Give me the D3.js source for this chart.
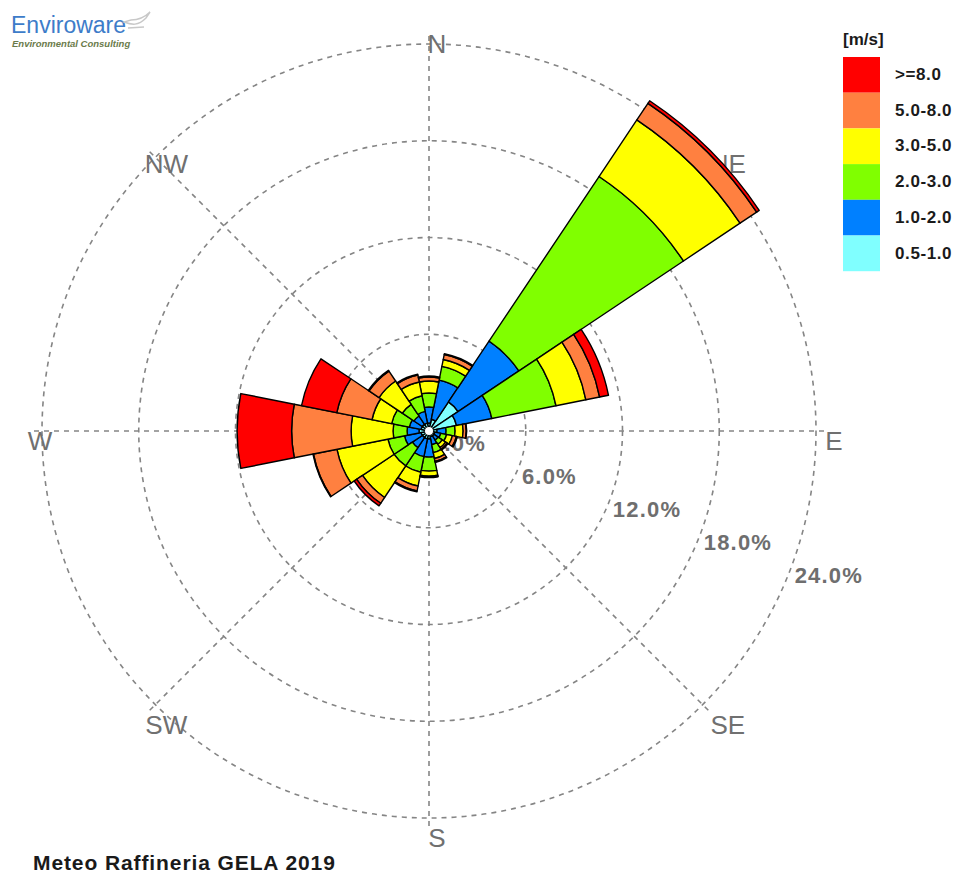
<!DOCTYPE html>
<html>
<head>
<meta charset="utf-8">
<script src="https://d3js.org/d3.v7.min.js"></script>
<style>
  body { margin: 0; background: #fff; }
  svg { display: block; font-family: Arial, "Liberation Sans", sans-serif; }
</style>
</head>
<body>
<div id="my_dataviz"></div>
<script>
// wind directions (16 sectors)
var directions = ["N","NNE","NE","ENE","E","ESE","SE","SSE","S","SSW","SW","WSW","W","WNW","NW","NNW"];

// speed classes, from the centre out
var speedClasses = ["0.5-1.0","1.0-2.0","2.0-3.0","3.0-5.0","5.0-8.0",">=8.0"];
var classColors  = ["#80ffff","#0080ff","#80ff00","#ffff00","#ff8040","#ff0000"];

// frequency (%) of each class per direction
var freq_05_10 = [0.50,0.74,2.17,1.74,0.50,0.37,0.37,0.37,0.50,0.50,0.50,0.50,0.62,0.50,0.50,0.50];
var freq_10_20 = [0.99,2.48,4.53,2.23,0.56,0.37,0.31,0.50,1.12,1.12,0.74,1.05,0.74,0.74,0.62,0.74];
var freq_20_30 = [0.87,0.87,12.28,4.06,0.56,0.37,0.31,0.50,0.87,0.99,1.36,1.05,0.87,1.12,0.87,0.99];
var freq_30_50 = [0.74,0.43,4.22,1.89,0.50,0.37,0.25,0.37,0.31,0.87,2.36,3.22,2.60,1.24,1.74,0.87];
var freq_50_80 = [0.25,0.31,1.24,0.87,0.19,0.25,0.12,0.19,0.06,0.31,0.43,1.49,3.69,2.23,0.74,0.43];
var freq_80_up = [0.06,0.06,0.19,0.56,0.03,0.06,0.06,0.06,0.03,0.06,0.19,0.03,3.38,2.23,0.06,0.06];

// rings and compass labels
var ringTicks = [0, 6, 12, 18, 24];
var compassLabels = ["N","NE","E","SE","S","SW","W","NW"];

var title = "Meteo Raffineria GELA 2019";
var legendTitle = "[m/s]";

var width = 960, height = 873;
var cx = 429, cy = 431, outer = 387;

var svg = d3.select("#my_dataviz")
  .append("svg")
    .attr("width", width)
    .attr("height", height);

var g = svg.append("g")
    .attr("transform", "translate(" + cx + "," + cy + ")");

// build the table for the stack
var series = [freq_05_10, freq_10_20, freq_20_30, freq_30_50, freq_50_80, freq_80_up];
var table = directions.map(function(dir, i) {
  var row = {dir: dir};
  speedClasses.forEach(function(k, j) { row[k] = series[j][i]; });
  return row;
});
var stacked = d3.stack().keys(speedClasses)(table);

// angle: band scale over the full turn, first sector centred on N
var x = d3.scaleBand()
  .domain(directions)
  .range([-Math.PI / 16, 2 * Math.PI - Math.PI / 16])
  .padding(0);

// radius
var y = d3.scaleLinear()
  .domain([0, 24])
  .range([0, outer]);

// grid circles
g.selectAll("circle.ring")
  .data(ringTicks.slice(1))
  .enter()
  .append("circle")
    .attr("class", "ring")
    .attr("r", function(d) { return y(d); })
    .attr("fill", "none")
    .attr("stroke", "#858585")
    .attr("stroke-width", 1.6)
    .attr("stroke-dasharray", "5,5");

// spokes
g.selectAll("line.spoke")
  .data(compassLabels)
  .enter()
  .append("line")
    .attr("class", "spoke")
    .attr("x1", 0).attr("y1", 0)
    .attr("x2", function(d, i) { return (outer + 10) * Math.sin(i * Math.PI / 4); })
    .attr("y2", function(d, i) { return -(outer + 10) * Math.cos(i * Math.PI / 4); })
    .attr("stroke", "#858585")
    .attr("stroke-width", 1.6)
    .attr("stroke-dasharray", "5,5");

// compass labels
g.selectAll("text.compass")
  .data(compassLabels)
  .enter()
  .append("text")
    .attr("class", "compass")
    .attr("x", function(d, i) {
      var extra = d.length > 1 ? 10 : 0;
      return 8 + extra + (outer + 10) * Math.sin(i * Math.PI / 4);
    })
    .attr("y", function(d, i) {
      var extra = d.length > 1 ? 3 : 0;
      return 10 + extra - (outer + 10) * Math.cos(i * Math.PI / 4);
    })
    .attr("text-anchor", "middle")
    .attr("dy", "0.36em")
    .attr("font-size", 26)
    .attr("fill", "#707070")
    .text(function(d) { return d; });

// ring labels along a line at 110 degrees
var labelAngle = 110 * Math.PI / 180;
g.selectAll("text.ringlabel")
  .data(ringTicks)
  .enter()
  .append("text")
    .attr("class", "ringlabel")
    .attr("x", function(d) { return y(d) * Math.sin(labelAngle) + 2; })
    .attr("y", function(d) { return -y(d) * Math.cos(labelAngle) + 20; })
    .attr("font-size", 22)
    .attr("font-weight", "bold")
    .attr("letter-spacing", 1.2)
    .attr("fill", "#6e6e6e")
    .text(function(d) { return d3.format(".1f")(d) + "%"; });

// bars
var arc = d3.arc()
  .innerRadius(function(d) { return y(d[0]); })
  .outerRadius(function(d) { return y(d[1]); })
  .startAngle(function(d) { return x(d.data.dir); })
  .endAngle(function(d) { return x(d.data.dir) + x.bandwidth(); });

g.selectAll("g.band")
  .data(stacked)
  .enter()
  .append("g")
    .attr("class", "band")
    .attr("fill", function(d, i) { return classColors[i]; })
  .selectAll("path")
  .data(function(d) { return d; })
  .enter()
  .append("path")
    .attr("d", arc)
    .attr("stroke", "#000")
    .attr("stroke-width", 1.4)
    .attr("stroke-linejoin", "round");

// calm hole
g.append("circle")
  .attr("r", 4)
  .attr("fill", "#fff");

// legend
var legend = svg.append("g")
  .attr("transform", "translate(843,57)");

legend.append("text")
  .attr("x", 0)
  .attr("y", -12)
  .attr("font-size", 17)
  .attr("font-weight", "bold")
  .attr("fill", "#1a1a1a")
  .text(legendTitle);

var legendOrder = speedClasses.slice().reverse();
var legendColors = classColors.slice().reverse();

legend.selectAll("rect")
  .data(legendOrder)
  .enter()
  .append("rect")
    .attr("x", 0)
    .attr("y", function(d, i) { return i * 35.7; })
    .attr("width", 37)
    .attr("height", 35.7)
    .attr("fill", function(d, i) { return legendColors[i]; });

legend.selectAll("text.lab")
  .data(legendOrder)
  .enter()
  .append("text")
    .attr("class", "lab")
    .attr("x", 52)
    .attr("y", function(d, i) { return i * 35.7 + 23; })
    .attr("font-size", 17)
    .attr("font-weight", "bold")
    .attr("letter-spacing", 0.6)
    .attr("fill", "#1a1a1a")
    .text(function(d) { return d; });

// title
svg.append("text")
  .attr("x", 33)
  .attr("y", 870)
  .attr("font-size", 21)
  .attr("font-weight", "bold")
  .attr("letter-spacing", 0.9)
  .attr("fill", "#1a1a1a")
  .text(title);

// logo
var logo = svg.append("g");
logo.append("text")
  .attr("x", 11)
  .attr("y", 33)
  .attr("font-size", 23)
  .attr("fill", "#3d7cc9")
  .text("Enviroware");
logo.append("text")
  .attr("x", 12)
  .attr("y", 47)
  .attr("font-size", 9.5)
  .attr("font-style", "italic")
  .attr("font-weight", "bold")
  .attr("fill", "#6b7b4b")
  .text("Environmental Consulting");
logo.append("path")
  .attr("d", "M124,22 C132,25 138,26 146,18 L150,12 C144,18 138,20 131,20 Z M128,28 L144,27")
  .attr("fill", "none")
  .attr("stroke", "#c8c8c8")
  .attr("stroke-width", 1.5);
</script>
</body>
</html>
